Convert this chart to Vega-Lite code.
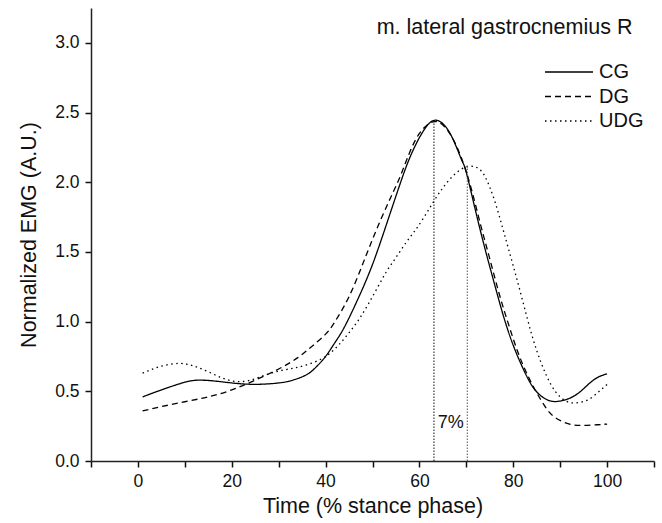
{
  "$schema": "https://vega.github.io/schema/vega-lite/v6.json",
  "width": 563,
  "height": 453,
  "autosize": {"type": "none"},
  "padding": {"left": 91, "top": 8, "right": 8, "bottom": 62},
  "background": "white",
  "config": {
    "view": {"stroke": null},
    "font": "Liberation Sans",
    "axis": {"grid": false, "domainColor": "#222", "tickColor": "#111", "tickOpacity": 1, "domainWidth": 1.5, "tickWidth": 1.5, "tickSize": 6, "ticks": true, "labelColor": "#111", "titleColor": "#111", "labelFont": "Liberation Sans", "titleFont": "Liberation Sans", "labelFontSize": 17.5, "titleFontSize": 21.5, "titleFontWeight": "normal"}
  },
  "layer": [
    {
      "data": {"values": [
        {"g": "CG", "x": 1, "y": 0.46}, {"g": "CG", "x": 5, "y": 0.51}, {"g": "CG", "x": 10, "y": 0.565}, {"g": "CG", "x": 13, "y": 0.58}, {"g": "CG", "x": 16, "y": 0.575}, {"g": "CG", "x": 20, "y": 0.56}, {"g": "CG", "x": 25, "y": 0.55}, {"g": "CG", "x": 30, "y": 0.56}, {"g": "CG", "x": 33, "y": 0.58}, {"g": "CG", "x": 36, "y": 0.62}, {"g": "CG", "x": 38, "y": 0.675}, {"g": "CG", "x": 40, "y": 0.75}, {"g": "CG", "x": 42, "y": 0.85}, {"g": "CG", "x": 44, "y": 0.96}, {"g": "CG", "x": 47, "y": 1.17}, {"g": "CG", "x": 50, "y": 1.41}, {"g": "CG", "x": 53, "y": 1.7}, {"g": "CG", "x": 56, "y": 2.0}, {"g": "CG", "x": 58, "y": 2.18}, {"g": "CG", "x": 60, "y": 2.32}, {"g": "CG", "x": 62, "y": 2.42}, {"g": "CG", "x": 63.5, "y": 2.445}, {"g": "CG", "x": 65, "y": 2.42}, {"g": "CG", "x": 67, "y": 2.32}, {"g": "CG", "x": 69, "y": 2.16}, {"g": "CG", "x": 70, "y": 2.07}, {"g": "CG", "x": 72, "y": 1.79}, {"g": "CG", "x": 74, "y": 1.52}, {"g": "CG", "x": 76, "y": 1.27}, {"g": "CG", "x": 78, "y": 1.03}, {"g": "CG", "x": 80, "y": 0.83}, {"g": "CG", "x": 82, "y": 0.67}, {"g": "CG", "x": 84, "y": 0.54}, {"g": "CG", "x": 86, "y": 0.465}, {"g": "CG", "x": 88, "y": 0.43}, {"g": "CG", "x": 90, "y": 0.43}, {"g": "CG", "x": 92, "y": 0.45}, {"g": "CG", "x": 94, "y": 0.49}, {"g": "CG", "x": 96, "y": 0.55}, {"g": "CG", "x": 98, "y": 0.6}, {"g": "CG", "x": 100, "y": 0.625},
        {"g": "DG", "x": 1, "y": 0.36}, {"g": "DG", "x": 5, "y": 0.39}, {"g": "DG", "x": 10, "y": 0.425}, {"g": "DG", "x": 15, "y": 0.46}, {"g": "DG", "x": 20, "y": 0.51}, {"g": "DG", "x": 25, "y": 0.58}, {"g": "DG", "x": 30, "y": 0.66}, {"g": "DG", "x": 34, "y": 0.74}, {"g": "DG", "x": 37, "y": 0.82}, {"g": "DG", "x": 40, "y": 0.91}, {"g": "DG", "x": 42, "y": 1.0}, {"g": "DG", "x": 45, "y": 1.18}, {"g": "DG", "x": 48, "y": 1.42}, {"g": "DG", "x": 50, "y": 1.59}, {"g": "DG", "x": 52, "y": 1.75}, {"g": "DG", "x": 54, "y": 1.9}, {"g": "DG", "x": 56, "y": 2.05}, {"g": "DG", "x": 58, "y": 2.22}, {"g": "DG", "x": 60, "y": 2.35}, {"g": "DG", "x": 62, "y": 2.42}, {"g": "DG", "x": 63.5, "y": 2.435}, {"g": "DG", "x": 65, "y": 2.41}, {"g": "DG", "x": 67, "y": 2.32}, {"g": "DG", "x": 69, "y": 2.17}, {"g": "DG", "x": 71, "y": 1.96}, {"g": "DG", "x": 73, "y": 1.7}, {"g": "DG", "x": 75, "y": 1.45}, {"g": "DG", "x": 77, "y": 1.2}, {"g": "DG", "x": 79, "y": 0.98}, {"g": "DG", "x": 81, "y": 0.78}, {"g": "DG", "x": 83, "y": 0.62}, {"g": "DG", "x": 85, "y": 0.49}, {"g": "DG", "x": 87, "y": 0.38}, {"g": "DG", "x": 89, "y": 0.31}, {"g": "DG", "x": 92, "y": 0.265}, {"g": "DG", "x": 95, "y": 0.255}, {"g": "DG", "x": 98, "y": 0.26}, {"g": "DG", "x": 100, "y": 0.265},
        {"g": "UDG", "x": 1, "y": 0.63}, {"g": "UDG", "x": 5, "y": 0.68}, {"g": "UDG", "x": 9, "y": 0.7}, {"g": "UDG", "x": 12, "y": 0.68}, {"g": "UDG", "x": 15, "y": 0.64}, {"g": "UDG", "x": 18, "y": 0.595}, {"g": "UDG", "x": 21, "y": 0.57}, {"g": "UDG", "x": 24, "y": 0.58}, {"g": "UDG", "x": 27, "y": 0.615}, {"g": "UDG", "x": 30, "y": 0.645}, {"g": "UDG", "x": 33, "y": 0.665}, {"g": "UDG", "x": 36, "y": 0.69}, {"g": "UDG", "x": 39, "y": 0.73}, {"g": "UDG", "x": 41, "y": 0.775}, {"g": "UDG", "x": 43, "y": 0.84}, {"g": "UDG", "x": 45, "y": 0.92}, {"g": "UDG", "x": 47, "y": 1.01}, {"g": "UDG", "x": 49, "y": 1.12}, {"g": "UDG", "x": 51, "y": 1.24}, {"g": "UDG", "x": 53, "y": 1.36}, {"g": "UDG", "x": 55, "y": 1.46}, {"g": "UDG", "x": 57, "y": 1.56}, {"g": "UDG", "x": 59, "y": 1.65}, {"g": "UDG", "x": 61, "y": 1.75}, {"g": "UDG", "x": 63, "y": 1.86}, {"g": "UDG", "x": 65, "y": 1.96}, {"g": "UDG", "x": 67, "y": 2.04}, {"g": "UDG", "x": 69, "y": 2.095}, {"g": "UDG", "x": 71, "y": 2.115}, {"g": "UDG", "x": 72.5, "y": 2.1}, {"g": "UDG", "x": 74, "y": 2.04}, {"g": "UDG", "x": 76, "y": 1.87}, {"g": "UDG", "x": 78, "y": 1.64}, {"g": "UDG", "x": 80, "y": 1.4}, {"g": "UDG", "x": 82, "y": 1.15}, {"g": "UDG", "x": 84, "y": 0.9}, {"g": "UDG", "x": 86, "y": 0.7}, {"g": "UDG", "x": 88, "y": 0.55}, {"g": "UDG", "x": 90, "y": 0.46}, {"g": "UDG", "x": 92, "y": 0.42}, {"g": "UDG", "x": 94, "y": 0.42}, {"g": "UDG", "x": 96, "y": 0.44}, {"g": "UDG", "x": 98, "y": 0.49}, {"g": "UDG", "x": 100, "y": 0.55}
      ]},
      "mark": {"type": "line", "interpolate": "natural", "color": "black", "strokeWidth": 1.3},
      "encoding": {
        "x": {"field": "x", "type": "quantitative", "scale": {"domain": [-10, 110], "nice": false, "zero": false},
          "axis": {"values": [-10, 0, 10, 20, 30, 40, 50, 60, 70, 80, 90, 100, 110], "ticks": true, "domain": true, "labelExpr": "datum.value >= 0 && datum.value <= 100 && datum.value % 20 == 0 ? datum.label : ''", "title": "Time (% stance phase)", "labelPadding": 5, "titlePadding": 6}},
        "y": {"field": "y", "type": "quantitative", "scale": {"domain": [0, 3.25], "nice": false},
          "axis": {"values": [0, 0.25, 0.5, 0.75, 1, 1.25, 1.5, 1.75, 2, 2.25, 2.5, 2.75, 3, 3.25], "ticks": true, "domain": true, "format": ".1f", "labelExpr": "datum.value <= 3 && (datum.value * 2) % 1 == 0 ? datum.label : ''", "title": "Normalized EMG (A.U.)", "labelPadding": 6, "titlePadding": 14}},
        "strokeDash": {"field": "g", "type": "nominal", "scale": {"domain": ["CG", "DG", "UDG"], "range": [[1, 0], [6, 4], [1.5, 3.5]]},
          "legend": {"orient": "none", "legendX": 477, "legendY": 51, "padding": 0, "title": null, "symbolType": "M-3,0H1", "symbolSize": 576, "symbolFillColor": "transparent", "symbolStrokeColor": "black", "symbolStrokeWidth": 1.3, "labelFontSize": 20, "labelColor": "#111", "labelFont": "Liberation Sans", "labelOffset": 5, "rowPadding": 1.5}}
      }
    },
    {
      "data": {"values": [{"x": 63.1, "y": 0, "y2": 2.44, "k": "a"}, {"x": 70.2, "y": 0, "y2": 2.12, "k": "b"}]},
      "mark": {"type": "rule", "strokeWidth": 1, "strokeDash": [1.5, 1.5]},
      "encoding": {
        "x": {"field": "x", "type": "quantitative"},
        "y": {"field": "y", "type": "quantitative"},
        "y2": {"field": "y2"},
        "color": {"field": "k", "type": "nominal", "scale": {"domain": ["a", "b"], "range": ["#111", "#555"]}, "legend": null}
      }
    },
    {
      "data": {"values": [{"x": 66.7, "y": 0.27, "label": "7%"}]},
      "mark": {"type": "text", "fontSize": 18, "color": "#111", "font": "Liberation Sans"},
      "encoding": {
        "x": {"field": "x", "type": "quantitative"},
        "y": {"field": "y", "type": "quantitative"},
        "text": {"field": "label"}
      }
    },
    {
      "data": {"values": [{"x": 105.4, "y": 3.11, "label": "m. lateral gastrocnemius R"}]},
      "mark": {"type": "text", "fontSize": 21.5, "align": "right", "color": "#111", "font": "Liberation Sans"},
      "encoding": {
        "x": {"field": "x", "type": "quantitative"},
        "y": {"field": "y", "type": "quantitative"},
        "text": {"field": "label"}
      }
    }
  ]
}
